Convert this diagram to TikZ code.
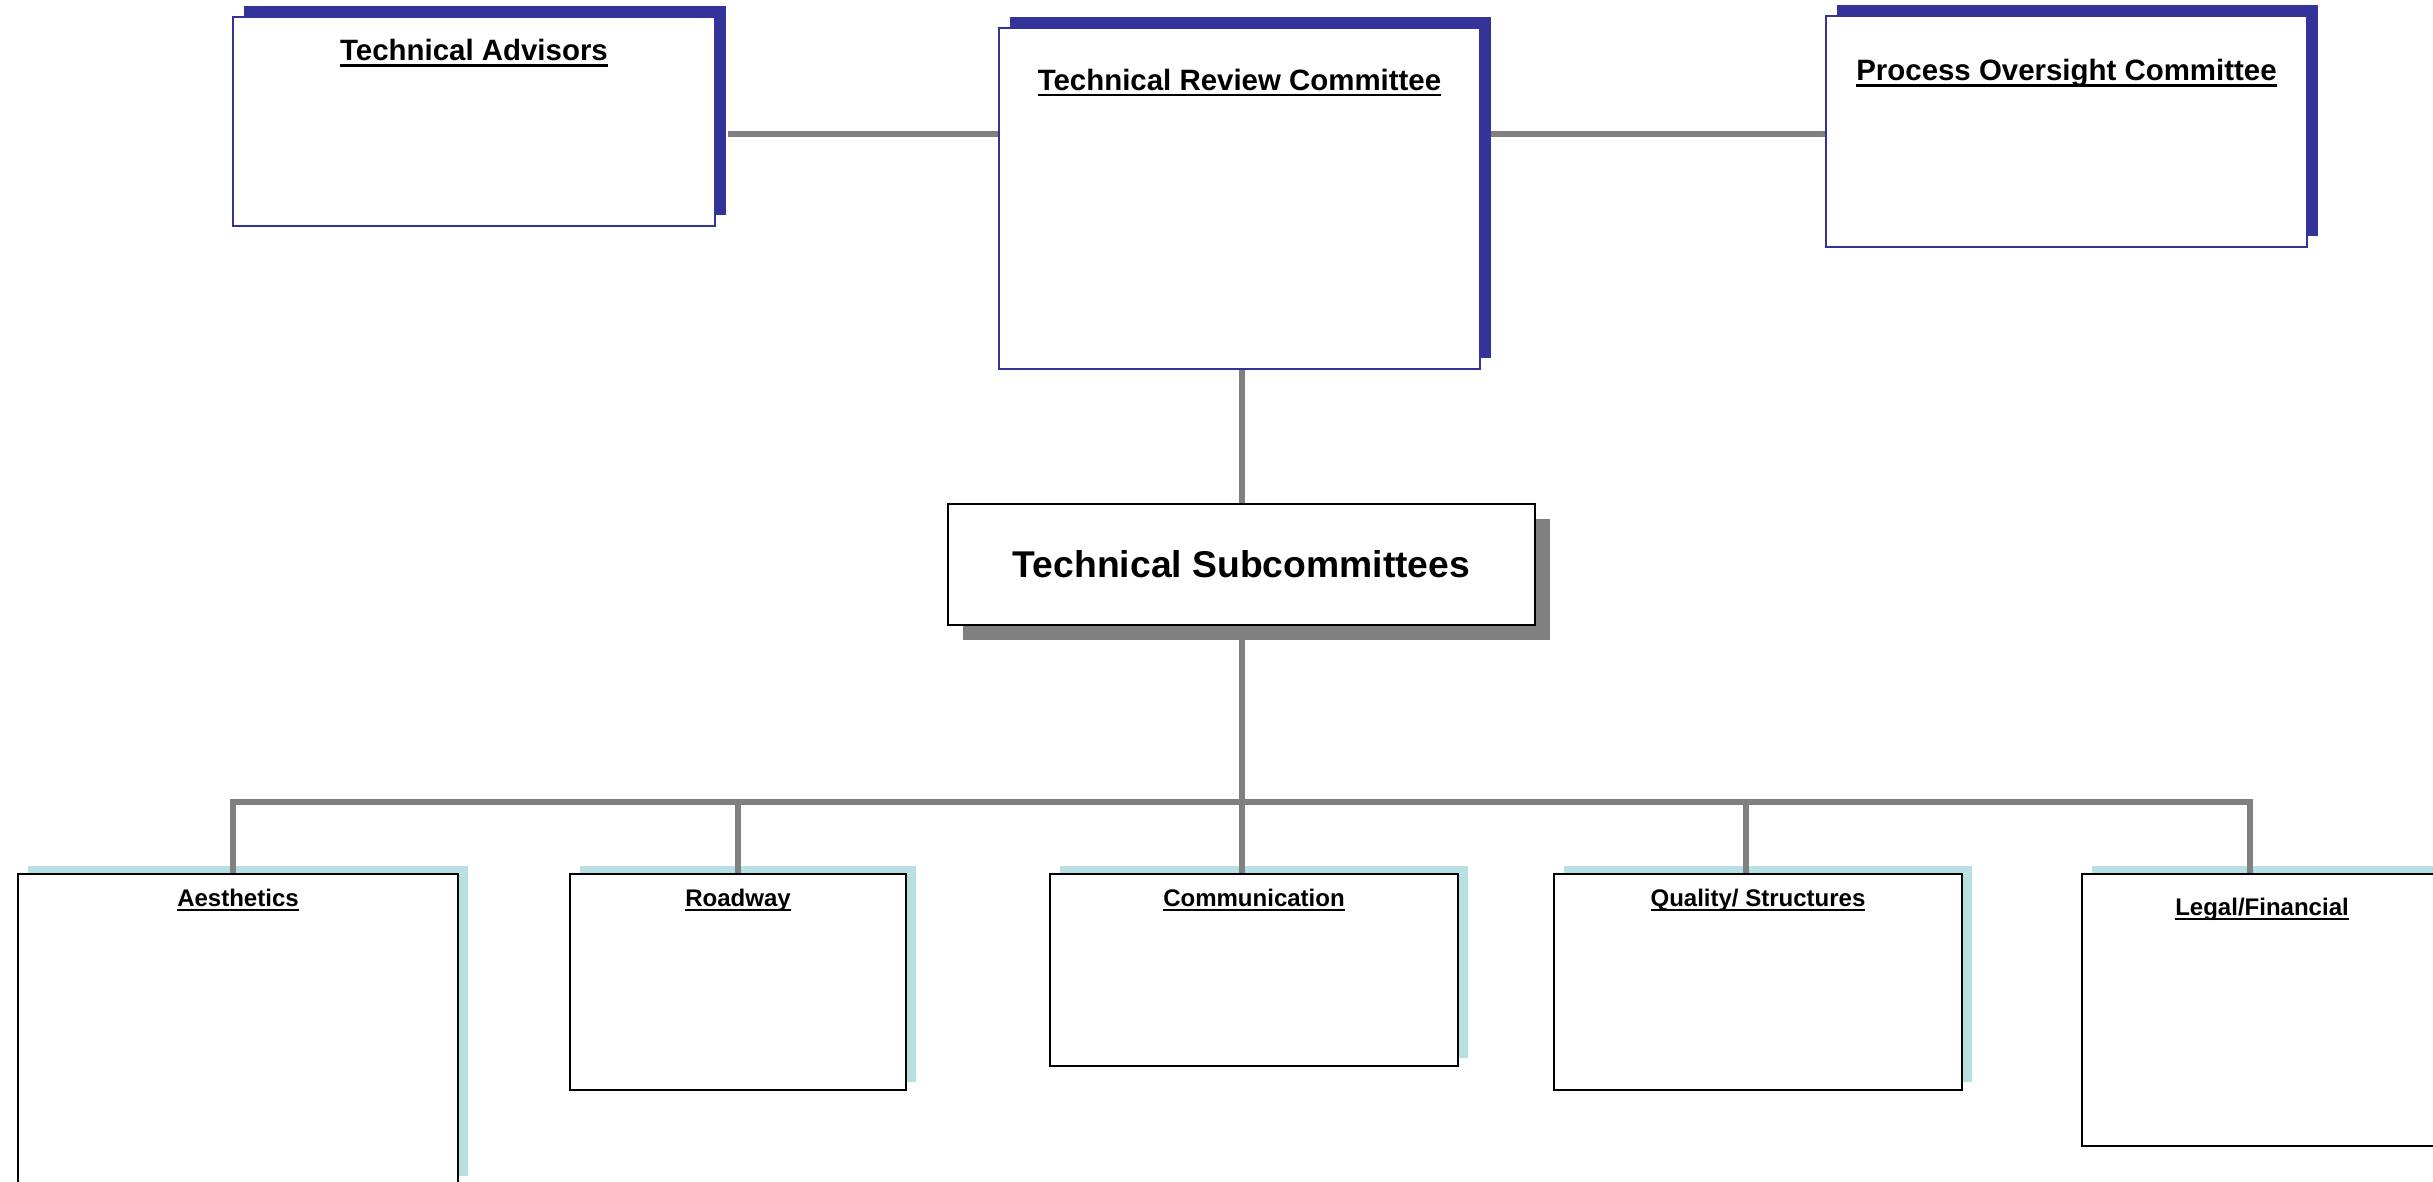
\documentclass[tikz,border=0pt]{standalone}
\usepackage{fontspec}
\setmainfont{Liberation Sans}
\usetikzlibrary{shadows}

\definecolor{boardblue}{RGB}{51,51,153}
\definecolor{linkgrey}{RGB}{128,128,128}
\definecolor{subshade}{RGB}{184,224,226}

\newcommand{\ulbold}[1]{\setbox0=\hbox{#1}\rlap{\rule[-0.19em]{\wd0}{0.09em}}\box0}

\tikzset{
  topbox/.style={draw=boardblue, line width=0.6pt, fill=white, inner sep=0pt, minimum width=4.81cm,
    general shadow={fill=boardblue, shadow xshift=0.11cm, shadow yshift=0.11cm}},
  subbox/.style={draw=black, line width=0.6pt, fill=white, inner sep=0pt,
    general shadow={fill=subshade, shadow xshift=0.10cm, shadow yshift=0.08cm}},
  toptitle/.style={anchor=base, inner sep=0pt, font={\fontsize{8.37}{10}\selectfont\bfseries}},
  subtitle/.style={anchor=base, inner sep=0pt, font={\fontsize{6.83}{8}\selectfont\bfseries}},
  link/.style={draw=linkgrey, line width=1.7pt}
}

\begin{document}
\begin{tikzpicture}[x=0.01cm, y=-0.01cm]
    \useasboundingbox (0,0) rectangle (2433,1181);
    \clip (0,0) rectangle (2433,1181);

    % committees
    \node[topbox, minimum height=2.09cm] (ta) at (474,121.5) {};
    \node[topbox, minimum height=3.41cm] (trc) at (1239.5,198.5) {};
    \node[topbox, minimum height=2.31cm] (poc) at (2066.5,131.5) {};
    \node[toptitle] (ta-t) at ([yshift=-0.45cm]ta.north) {\ulbold{Technical Advisors}};
    \node[toptitle] (trc-t) at ([yshift=-0.64cm]trc.north) {\ulbold{Technical Review Committee}};
    \node[toptitle] (poc-t) at ([yshift=-0.66cm]poc.north) {\ulbold{Process Oversight Committee}};

    \node[draw=black, line width=0.6pt, fill=white, inner sep=0pt, minimum width=5.87cm, minimum height=1.21cm,
          general shadow={fill=linkgrey, shadow xshift=0.15cm, shadow yshift=-0.15cm},
          font={\fontsize{10.6}{12}\selectfont\bfseries}] (ts) at (1241.5,564.5) {Technical Subcommittees};

    % subcommittees
    \node[subbox, minimum width=4.40cm, minimum height=3.10cm] (aes) at (238,1029) {};
    \node[subbox, minimum width=3.36cm, minimum height=2.16cm] (road) at (738,982) {};
    \node[subbox, minimum width=4.08cm, minimum height=1.92cm] (comm) at (1254,970) {};
    \node[subbox, minimum width=4.08cm, minimum height=2.16cm] (qual) at (1758,982) {};
    \node[subbox, minimum width=3.60cm, minimum height=2.72cm] (legal) at (2262,1010) {};
    \node[subtitle] (aes-t) at ([yshift=-0.34cm]aes.north) {\ulbold{Aesthetics}};
    \node[subtitle] (road-t) at ([yshift=-0.34cm]road.north) {\ulbold{Roadway}};
    \node[subtitle] (comm-t) at ([yshift=-0.34cm]comm.north) {\ulbold{Communication}};
    \node[subtitle] (qual-t) at ([yshift=-0.34cm]qual.north) {\ulbold{Quality/ Structures}};
    \node[subtitle] (legal-t) at ([yshift=-0.43cm]legal.north) {\ulbold{Legal/Financial}};

    % connectors
    \coordinate (topline) at (0,134);
    \coordinate (bus) at (0,802);
    \draw[link] ([xshift=0.12cm]ta.east |- topline) -- (trc.west |- topline);
    \draw[link] ([xshift=0.10cm]trc.east |- topline) -- (poc.west |- topline);
    \draw[link] (ts.north |- trc.south) -- (ts.north);
    \draw[link] (ts.south) -- (ts.south |- bus);
    \draw[link] ([shift={(-5,0)}]aes.north) -- ([shift={(-5,0)}]aes.north |- bus)
        -- ([shift={(-12,0)}]legal.north |- bus) -- ([shift={(-12,0)}]legal.north);
    \foreach \b/\dx in {road/0, comm/-12, qual/-12}
        \draw[link] ([shift={(\dx,0)}]\b.north |- bus) -- ([shift={(\dx,0)}]\b.north);
\end{tikzpicture}
\end{document}
